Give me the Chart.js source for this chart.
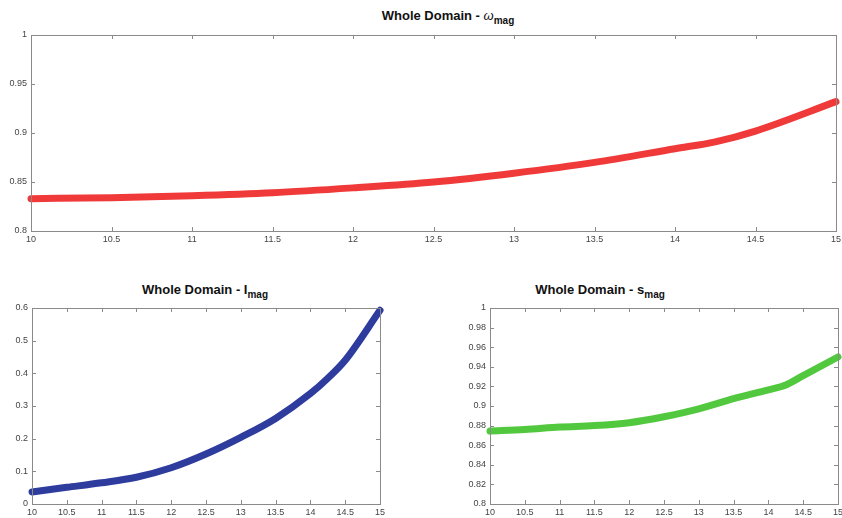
<!DOCTYPE html>
<html>
<head>
<meta charset="utf-8">
<script src="https://cdn.jsdelivr.net/npm/chart.js@4/dist/chart.umd.min.js"></script>
<style>
  body { margin: 0; background: #fff; width: 842px; height: 518px; overflow: hidden; position: relative; font-family: "Liberation Sans", Arial, sans-serif; }
  canvas { position: absolute; }
  .ttl { position: absolute; font-weight: bold; font-size: 13px; color: #111; white-space: nowrap; transform: translateX(-50%); }
  .ttl sub { font-size: 10px; vertical-align: -4px; }
</style>
</head>
<body>
<div class="ttl" style="left:448px; top:8px;">Whole Domain - <i style="font-weight:normal">ω</i><sub>mag</sub></div>
<div class="ttl" style="left:205px; top:282px;">Whole Domain - I<sub>mag</sub></div>
<div class="ttl" style="left:600px; top:282px;">Whole Domain - s<sub>mag</sub></div>
<canvas id="omegaChart" width="842" height="262" style="left:0; top:0;"></canvas>
<canvas id="iChart" width="420" height="238" style="left:0; top:280px;"></canvas>
<canvas id="sChart" width="402" height="238" style="left:440px; top:280px;"></canvas>
<script>
// sample positions (x axis)
const xs = [10, 10.5, 11, 11.5, 12, 12.5, 13, 13.5, 14, 14.25, 14.5, 15];

// series values
const omegaMag = [0.833, 0.834, 0.836, 0.839, 0.844, 0.850, 0.859, 0.870, 0.884, 0.891, 0.902, 0.932];
const iMag     = [0.037, 0.051, 0.065, 0.082, 0.111, 0.153, 0.204, 0.262, 0.338, 0.385, 0.440, 0.593];
const sMag     = [0.8745, 0.876, 0.8785, 0.880, 0.883, 0.889, 0.897, 0.9075, 0.9165, 0.9215, 0.931, 0.950];

// axis ranges / steps
const xTicks = { min: 10, max: 15, step: 0.5 };
const omegaTicks = { min: 0.8, max: 1, step: 0.05 };
const iTicks = { min: 0, max: 0.6, step: 0.1 };
const sTicks = { min: 0.8, max: 1, step: 0.02 };

// MATLAB style labels: no trailing zeros
const plain = v => String(+Number(v).toFixed(4));

// box with inward ticks on all four sides
const boxPlugin = {
  id: 'box',
  afterDraw(chart, args, opts) {
    const { ctx, chartArea: a, scales } = chart;
    const len = opts.len || 4;
    ctx.save();
    ctx.strokeStyle = '#8a8a8a';
    ctx.lineWidth = 1;
    ctx.strokeRect(Math.round(a.left) + 0.5, Math.round(a.top) + 0.5, Math.round(a.right - a.left), Math.round(a.bottom - a.top));
    ctx.beginPath();
    scales.x.ticks.forEach(t => {
      const px = Math.round(scales.x.getPixelForValue(t.value)) + 0.5;
      ctx.moveTo(px, a.bottom); ctx.lineTo(px, a.bottom - len);
      ctx.moveTo(px, a.top); ctx.lineTo(px, a.top + len);
    });
    scales.y.ticks.forEach(t => {
      const py = Math.round(scales.y.getPixelForValue(t.value)) + 0.5;
      ctx.moveTo(a.left, py); ctx.lineTo(a.left + len, py);
      ctx.moveTo(a.right, py); ctx.lineTo(a.right - len, py);
    });
    ctx.stroke();
    ctx.restore();
  }
};

function makeChart(id, values, yt, color, lay) {
  const ctx = document.getElementById(id).getContext('2d');
  return new Chart(ctx, {
    type: 'line',
    data: {
      datasets: [{
        data: xs.map((x, i) => ({ x: x, y: values[i] })),
        borderColor: color,
        borderWidth: 7,
        borderCapStyle: 'round',
        pointRadius: 0,
        cubicInterpolationMode: 'monotone',
        clip: false
      }]
    },
    options: {
      responsive: false,
      animation: false,
      layout: { padding: { top: lay.top, right: lay.right, left: 0, bottom: 0 } },
      plugins: { legend: { display: false }, tooltip: { enabled: false }, box: { len: 4 } },
      scales: {
        x: {
          type: 'linear',
          min: xTicks.min, max: xTicks.max,
          grid: { display: false, drawTicks: false },
          border: { display: false },
          ticks: { stepSize: xTicks.step, padding: 3, color: '#444', font: { family: 'Liberation Sans', size: 9 }, maxRotation: 0, autoSkip: false, callback: plain },
          afterFit: s => { s.height = lay.xh; s.paddingLeft = 0; s.paddingRight = 0; }
        },
        y: {
          min: yt.min, max: yt.max,
          grid: { display: false, drawTicks: false },
          border: { display: false },
          ticks: { stepSize: yt.step, padding: 4, color: '#444', font: { family: 'Liberation Sans', size: 9 }, callback: plain },
          afterFit: s => { s.width = lay.yw; s.paddingTop = 0; s.paddingBottom = 0; }
        }
      }
    },
    plugins: [boxPlugin]
  });
}

makeChart('omegaChart', omegaMag, omegaTicks, '#f03a3a', { top: 35, right: 6, xh: 31, yw: 31 });
makeChart('iChart', iMag, iTicks, '#2e3c9e', { top: 28, right: 40, xh: 14, yw: 32 });
makeChart('sChart', sMag, sTicks, '#52c83e', { top: 28, right: 4, xh: 14, yw: 50 });
</script>
</body>
</html>
